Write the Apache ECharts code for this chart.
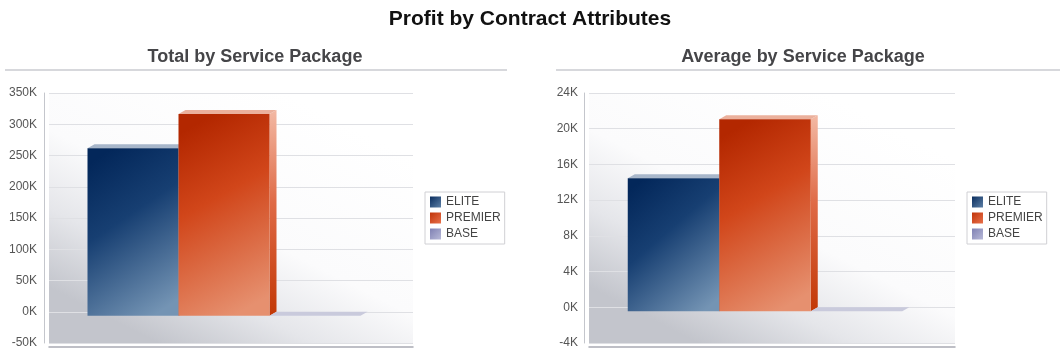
<!DOCTYPE html>
<html>
<head>
<meta charset="utf-8">
<script src="https://cdn.jsdelivr.net/npm/echarts@6/dist/echarts.min.js"></script>
<style>
html,body{margin:0;padding:0;background:#fff;}
#main{width:1060px;height:360px;}
</style>
</head>
<body>
<div id="main"></div>
<script>
// ---- data ----
const chartTitle = 'Profit by Contract Attributes';
const panelTitles = ['Total by Service Package', 'Average by Service Package'];
const packages = ['ELITE', 'PREMIER', 'BASE'];
const totalProfit = [268000, 323000, 0];
const averageProfit = [14900, 21500, 0];
const totalAxis = { min: -50000, max: 350000, interval: 50000 };
const averageAxis = { min: -4000, max: 24000, interval: 4000 };
const categoryLabel = ['Service Package'];

// ---- styling ----
const FONT = '"Liberation Sans", Arial, sans-serif';
const G = echarts.graphic.LinearGradient;
const palette = {
  ELITE: {
    front: () => new G(0, 0.1, 1, 0.9, [{offset:0,color:'#03275a'},{offset:0.4,color:'#173f72'},{offset:1,color:'#7494b4'}]),
    top: '#a7b6ca',
    side: () => new G(0, 0, 0, 1, [{offset:0,color:'#9fb2c9'},{offset:1,color:'#0f3566'}]),
    legend: () => new G(0, 0, 1, 1, [{offset:0,color:'#0a2d5e'},{offset:1,color:'#5d80a6'}])
  },
  PREMIER: {
    front: () => new G(0, 0.1, 1, 0.9, [{offset:0,color:'#b32700'},{offset:0.4,color:'#d1461a'},{offset:1,color:'#e6906f'}]),
    top: '#ebb09c',
    side: () => new G(0, 0, 0, 1, [{offset:0,color:'#f3b9a4'},{offset:0.45,color:'#df6a46'},{offset:1,color:'#c23806'}]),
    legend: () => new G(0, 0, 1, 1, [{offset:0,color:'#c0340a'},{offset:1,color:'#e8704a'}])
  },
  BASE: {
    front: () => new G(0, 0, 1, 1, [{offset:0,color:'#7e80b2'},{offset:1,color:'#b9bad8'}]),
    top: '#c9cadc',
    side: () => '#b3b4cf',
    legend: () => new G(0, 0, 1, 1, [{offset:0,color:'#7f81b3'},{offset:1,color:'#b8b9d8'}])
  }
};
const OX = -7, OY = 4;      // front face offset from back wall
const DX = 7, DY = -4;      // depth vector

function wallGradient() {
  return new G(0.65, 0, 0.3, 1, [
    {offset:0, color:'#ffffff'},
    {offset:0.5, color:'#fbfbfc'},
    {offset:0.75, color:'#e5e6ea'},
    {offset:1, color:'#c3c5cc'}
  ]);
}

function makeRender(idx, name) {
  return function (params, api) {
    const bw = api.size([1, 0])[0] * 0.25;
    const base = api.coord([api.value(0), 0]);
    const topPt = api.coord([api.value(0), api.value(1)]);
    const x = base[0] - 1.5 * bw + idx * bw + OX;
    const y0 = base[1] + OY;
    const y1 = topPt[1] + OY;
    const p = palette[name];
    return {
      type: 'group',
      children: [
        { type: 'polygon', shape: { points: [[x + bw, y1], [x + bw + DX, y1 + DY], [x + bw + DX, y0 + DY], [x + bw, y0]] },
          style: { fill: p.side() } },
        { type: 'polygon', shape: { points: [[x, y1], [x + bw, y1], [x + bw + DX, y1 + DY], [x + DX, y1 + DY]] },
          style: { fill: p.top } },
        { type: 'rect', shape: { x: x, y: y1, width: bw, height: y0 - y1 },
          style: { fill: p.front() } }
      ]
    };
  };
}

function seriesFor(values, axisIndex) {
  return packages.map((name, i) => ({
    type: 'custom',
    name: name,
    xAxisIndex: axisIndex,
    yAxisIndex: axisIndex,
    clip: false,
    encode: { x: 0, y: 1 },
    itemStyle: { color: palette[name].legend() },
    data: [[0, values[i]]],
    renderItem: makeRender(i, name)
  }));
}

function yAxisFor(axis, gridIndex, margin) {
  return {
    type: 'value', gridIndex: gridIndex,
    min: axis.min, max: axis.max, interval: axis.interval,
    offset: 5,
    axisLine: { show: true, onZero: false, lineStyle: { color: '#c4c6cc', width: 1 } },
    axisTick: { show: false },
    axisLabel: { color: '#555', fontSize: 12, fontFamily: FONT, margin: margin,
      formatter: v => (v / 1000) + 'K' },
    splitLine: { show: true, lineStyle: { color: '#dfe0e4', width: 1 } }
  };
}
function xAxisFor(gridIndex) {
  return {
    type: 'category', gridIndex: gridIndex, data: categoryLabel,
    offset: 4,
    axisLine: { show: true, onZero: false, lineStyle: { color: '#a9abb4', width: 1.5 } },
    axisTick: { show: false }, axisLabel: { show: false }, splitLine: { show: false }
  };
}
function legendFor(left) {
  return {
    orient: 'vertical', left: left, top: 192,
    itemWidth: 11, itemHeight: 11, itemGap: 2,
    padding: [3, 4, 3, 5],
    borderColor: '#d0d0d4', borderWidth: 1, backgroundColor: '#fff',
    selectedMode: false,
    textStyle: { color: '#444', fontSize: 12, fontFamily: FONT, lineHeight: 14 },
    data: packages.map(n => ({ name: n, icon: 'rect', itemStyle: { color: palette[n].legend() } }))
  };
}

const chart = echarts.init(document.getElementById('main'), null, { renderer: 'canvas' });
chart.setOption({
  backgroundColor: '#ffffff',
  animation: false,
  title: {
    text: chartTitle, left: 'center', top: 4,
    textStyle: { fontSize: 21, fontWeight: 'bold', color: '#111', fontFamily: FONT }
  },
  graphic: [
    { type: 'text', x: 255, y: 57, style: { text: panelTitles[0], textAlign: 'center', textVerticalAlign: 'middle',
        font: 'bold 18px ' + FONT, fill: '#454548' } },
    { type: 'text', x: 803, y: 57, style: { text: panelTitles[1], textAlign: 'center', textVerticalAlign: 'middle',
        font: 'bold 18px ' + FONT, fill: '#454548' } },
    { type: 'rect', shape: { x: 5, y: 69, width: 502, height: 2 }, style: { fill: '#d7d8dc' } },
    { type: 'rect', shape: { x: 556, y: 69, width: 504, height: 2 }, style: { fill: '#d7d8dc' } }
  ],
  grid: [
    { left: 49, top: 93, width: 364, height: 250, show: true, borderWidth: 0, backgroundColor: wallGradient() },
    { left: 589, top: 93, width: 366, height: 250, show: true, borderWidth: 0, backgroundColor: wallGradient() }
  ],
  xAxis: [xAxisFor(0), xAxisFor(1)],
  yAxis: [yAxisFor(totalAxis, 0, 7), yAxisFor(averageAxis, 1, 6)],
  legend: [legendFor(425), legendFor(967)],
  series: seriesFor(totalProfit, 0).concat(seriesFor(averageProfit, 1))
});
</script>
</body>
</html>
